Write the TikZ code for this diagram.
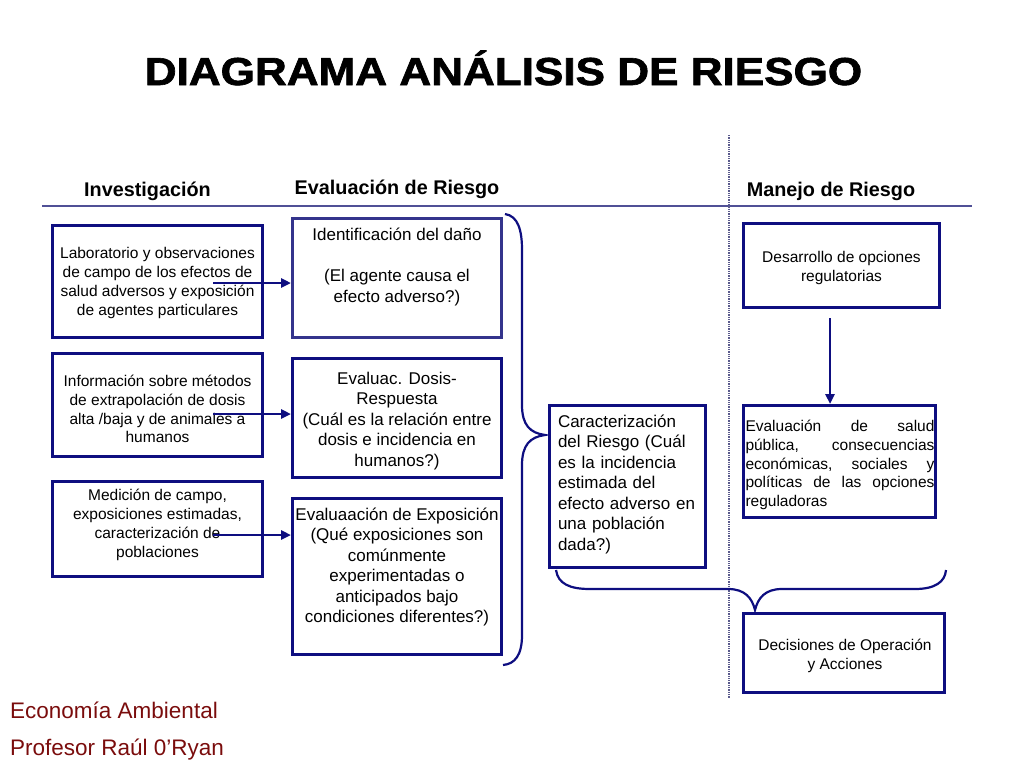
\documentclass[tikz,border=0pt]{standalone}
\usepackage{fontspec}
\setmainfont{Liberation Sans}
\newfontfamily\titulofont[FakeBold=1.6]{Liberation Sans Bold}
\usetikzlibrary{arrows.meta}
\definecolor{azul}{RGB}{14,14,128}
\definecolor{azulclaro}{RGB}{52,52,140}
\definecolor{linea}{RGB}{80,80,150}
\definecolor{punteado}{RGB}{90,90,140}
\definecolor{granate}{RGB}{122,12,12}

\begin{document}
\begin{tikzpicture}[auto, x=1pt, y=-1pt,
		caja/.style={draw=azul, line width=3pt, inner sep=0pt},
		chico/.style={font=\fontsize{15.5}{18.8}\selectfont, align=center, inner sep=0pt},
		grande/.style={font=\fontsize{17}{20.5}\selectfont, align=center, inner sep=0pt},
		encabezado/.style={font=\fontsize{19.8}{24}\selectfont\bfseries, anchor=base, inner sep=0pt},
		pie/.style={font=\fontsize{22.5}{27}\selectfont, text=granate, anchor=west, inner sep=0pt},
		flecha/.style={draw=azul, line width=2.7pt, -{Triangle[length=10pt,width=9pt]}}]
		\useasboundingbox (0,0) rectangle (1024,768);
		%%%%%%%%%%%%%
		\node (titulo) at (503.5, 85) [anchor=base, inner sep=0pt]
			{\fontsize{39}{39}\selectfont\titulofont\scalebox{1.13}[1]{DIAGRAMA ANÁLISIS DE RIESGO}};
		\node [encabezado] (inv) at (147.5, 196) {Investigación};
		\node [encabezado] (eval) at (397, 194) {Evaluación de Riesgo};
		\node [encabezado] (man) at (831, 196) {Manejo de Riesgo};
		\coordinate (h1) at (42, 206); \coordinate (h2) at (972, 206);
		\coordinate (v1) at (729, 135); \coordinate (v2) at (729, 698);
		%%%%%%%%%%%%% cajas
		\node [caja, minimum width=210, minimum height=112] (l1) at (157.5, 281.5) {};
		\node [caja, minimum width=210, minimum height=103] (l2) at (157.5, 405) {};
		\node [caja, minimum width=210, minimum height=95] (l3) at (157.5, 529) {};
		\node [caja, draw=azulclaro, minimum width=209, minimum height=119] (m1) at (397, 278) {};
		\node [caja, minimum width=209, minimum height=119] (m2) at (397, 418) {};
		\node [caja, minimum width=209, minimum height=156] (m3) at (397, 576.5) {};
		\node [caja, minimum width=156, minimum height=162] (c) at (627.5, 486.5) {};
		\node [caja, minimum width=196, minimum height=84] (r1) at (841.5, 265.5) {};
		\node [caja, minimum width=192, minimum height=112] (r2) at (839.5, 461.5) {};
		\node [caja, minimum width=201, minimum height=79] (r3) at (844, 653) {};
		%%%%%%%%%%%%% textos
		\node [chico] (tl1) at (157.5, 283) {Laboratorio y observaciones\\de campo de los efectos de\\salud adversos y exposición\\de agentes particulares};
		\node [chico] (tl2) at (157.5, 409) {Información sobre métodos\\de extrapolación de dosis\\alta /baja y de animales a\\humanos};
		\node [chico] (tl3) at (157.5, 525) {Medición de campo,\\exposiciones estimadas,\\caracterización de\\poblaciones};
		\node [grande] (tm1) at (397, 267) {Identificación del daño\\[20.5pt](El agente causa el\\efecto adverso?)};
		\node [grande] (tm2) at (397, 421) {Evaluac. Dosis-\\Respuesta\\(Cuál es la relación entre\\dosis e incidencia en\\humanos?)};
		\node [grande] (tm3) at (397, 567) {Evaluaación de Exposición\\(Qué exposiciones son\\comúnmente\\experimentadas o\\anticipados bajo\\condiciones diferentes?)};
		\node [grande, align=left, text width=140] (tc) at (628, 484) {Caracterización\\del Riesgo (Cuál\\es la incidencia\\estimada del\\efecto adverso en\\una población\\dada?)};
		\node [chico] (tr1) at (841.5, 268) {Desarrollo de opciones\\regulatorias};
		\node [chico, align=left, text width=189] (tr2) at (840, 465)
			{\makebox[189pt]{Evaluación\hfill de\hfill salud}\\
			 \makebox[189pt]{pública,\hfill consecuencias}\\
			 \makebox[189pt]{económicas,\hfill sociales\hfill y}\\
			 \makebox[189pt]{políticas\hfill de\hfill las\hfill opciones}\\
			 reguladoras};
		\node [chico] (tr3) at (845, 656) {Decisiones de Operación\\y Acciones};
		\node [pie] (p1) at (10, 710) {Economía Ambiental};
		\node [pie] (p2) at (10, 750) {Profesor Raúl 0’Ryan};
		%%%%%%%%%%%%% lineas
		\draw [linea, line width=1.3pt] (h1) to (h2);
		\draw [punteado, line width=1.3pt, densely dotted] (v1) to (v2);
		\coordinate (s1) at (213, 283); \coordinate (s2) at (213, 414);
		\coordinate (s3) at (213, 535); \coordinate (s4) at (830, 318);
		\draw [flecha] (s1) to (m1.west |- s1);
		\draw [flecha] (s2) to (m2.west |- s2);
		\draw [flecha] (s3) to (m3.west |- s3);
		\draw [flecha] (s4) to (r2.north -| s4);
		%%%%%%%%%%%%% llaves
		\draw [azul, line width=2.2pt] (505, 214) .. controls (518, 216) and (522, 230) .. (522, 250)
			-- (522, 405) .. controls (522, 425) and (530, 433) .. (545, 435)
			.. controls (530, 437) and (522, 445) .. (522, 465)
			-- (522, 635) .. controls (522, 655) and (515, 664) .. (503, 665);
		\draw [azul, line width=2.2pt] (556, 570) .. controls (558, 584) and (570, 589) .. (590, 589)
			-- (728, 589) .. controls (745, 589) and (752, 598) .. (755, 610)
			.. controls (758, 598) and (765, 589) .. (782, 589)
			-- (915, 589) .. controls (935, 589) and (945, 582) .. (946, 570);
\end{tikzpicture}
\end{document}
